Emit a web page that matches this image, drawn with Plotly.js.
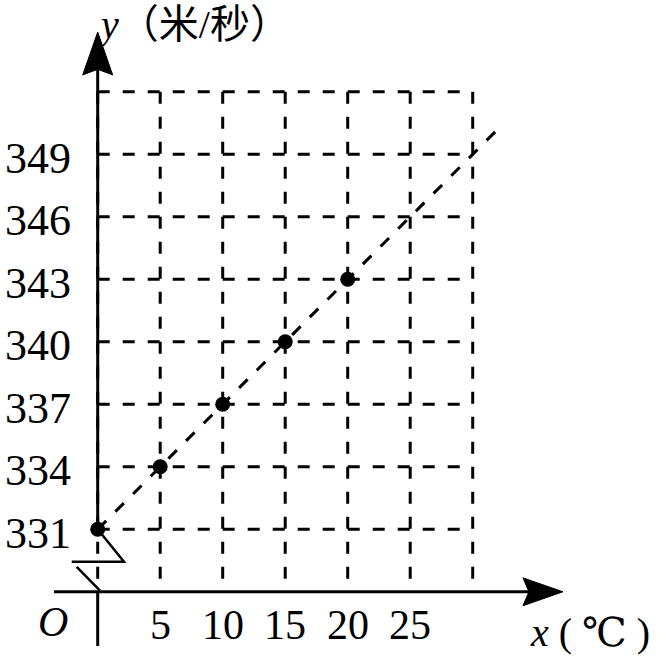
<!DOCTYPE html>
<html><head><meta charset="utf-8">
<script src="https://cdn.plot.ly/plotly-3.0.1.min.js"></script>
<style>html,body{margin:0;padding:0;background:#fff}#chart{width:658px;height:657px}</style>
</head><body><div id="chart"></div>
<script>
// data
const temperature = [0, 5, 10, 15, 20];
const speed = [331, 334, 337, 340, 343];
const xTickVals = [5, 10, 15, 20, 25];
const yTickVals = [331, 334, 337, 340, 343, 346, 349];
const gridX = [0, 5, 10, 15, 20, 25, 30];
const gridY = [331, 334, 337, 340, 343, 346, 349, 352];
const lineEndX = 31.9;

// fitted line through the measured points
const n = temperature.length;
const slope = (speed[n-1] - speed[0]) / (temperature[n-1] - temperature[0]);
const lineX = [temperature[0], lineEndX];
const lineY = lineX.map(v => speed[0] + slope * (v - temperature[0]));

const ink = '#000';
const serif = 'Liberation Serif, Times New Roman, serif';
const dash = '12px,13px';
const gridTop = gridY[gridY.length-1];
const gridBottom = 328.6;
const axisY = 328;

const shapes = [];
gridY.forEach(v => shapes.push({type:'line', xref:'x', yref:'y', x0:gridX[0], x1:gridX[gridX.length-1], y0:v, y1:v, line:{color:ink, width:3, dash:dash}}));
gridX.forEach(v => shapes.push({type:'line', xref:'x', yref:'y', x0:v, x1:v, y0:gridTop, y1:gridBottom, line:{color:ink, width:3, dash:dash}}));
// y axis (solid part above the break, and below the x axis)
shapes.push({type:'line', xref:'x', yref:'y', x0:0, x1:0, y0:speed[0], y1:353.1, line:{color:ink, width:3}});
shapes.push({type:'line', xref:'x', yref:'y', x0:0, x1:0, y0:axisY, y1:325.4, line:{color:ink, width:3}});
// x axis
shapes.push({type:'line', xref:'x', yref:'y', x0:-3.5, x1:34.6, y0:axisY, y1:axisY, line:{color:ink, width:3}});
// arrows
shapes.push({type:'path', xref:'x', yref:'y', path:'M0,354.87 L1.2,352.81 L0,353.08 L-1.2,352.81 Z', fillcolor:ink, line:{color:ink, width:1}});
shapes.push({type:'path', xref:'x', yref:'y', path:'M37.22,328 L34.02,328.67 L34.5,328 L34.02,327.33 Z', fillcolor:ink, line:{color:ink, width:1}});
// axis break zigzag
shapes.push({type:'path', xref:'x', yref:'y', path:'M0,331 L2.1,329.44 L-2.08,329.44', line:{color:ink, width:2.5}});
shapes.push({type:'path', xref:'x', yref:'y', path:'M-1.68,329.2 L0.18,328.06', line:{color:ink, width:2.5}});

const annotations = [];
yTickVals.forEach(v => annotations.push({x:0, y:v, xref:'x', yref:'y', text:String(v), showarrow:false, xanchor:'right', yanchor:'middle', xshift:-25, yshift:-4, font:{family:serif, size:44, color:ink}}));
xTickVals.forEach(v => annotations.push({x:v, y:axisY, xref:'x', yref:'y', text:String(v), showarrow:false, xanchor:'center', yanchor:'middle', yshift:-33, font:{family:serif, size:42, color:ink}}));
annotations.push({x:0, y:axisY, xref:'x', yref:'y', text:'<i>O</i>', showarrow:false, xanchor:'center', yanchor:'middle', xshift:-45, yshift:-30, font:{family:serif, size:42, color:ink}});
annotations.push({x:95/658, y:1, xref:'paper', yref:'paper', text:'<i>y</i>（米/秒）', showarrow:false, xanchor:'left', yanchor:'top', font:{family:'Liberation Serif, Noto Sans CJK SC, serif', size:40, color:ink}});
annotations.push({x:652/658, y:0, xref:'paper', yref:'paper', text:'<i>x</i> ( ℃ )', showarrow:false, xanchor:'right', yanchor:'bottom', font:{family:'Liberation Serif, DejaVu Serif, serif', size:40, color:ink}});

const traces = [
  {x:lineX, y:lineY, type:'scatter', mode:'lines', line:{color:ink, width:3, dash:dash}, hoverinfo:'skip'},
  {x:temperature, y:speed, type:'scatter', mode:'markers', marker:{color:ink, size:15}}
];

const layout = {
  width:658, height:657,
  margin:{l:0, r:0, t:0, b:0},
  paper_bgcolor:'#fff', plot_bgcolor:'#fff',
  showlegend:false,
  xaxis:{range:[-7.816, 44.824], visible:false, fixedrange:true},
  yaxis:{range:[324.87, 356.407], visible:false, fixedrange:true},
  shapes:shapes,
  annotations:annotations
};
Plotly.newPlot('chart', traces, layout, {displayModeBar:false, staticPlot:true});
</script>
</body></html>
